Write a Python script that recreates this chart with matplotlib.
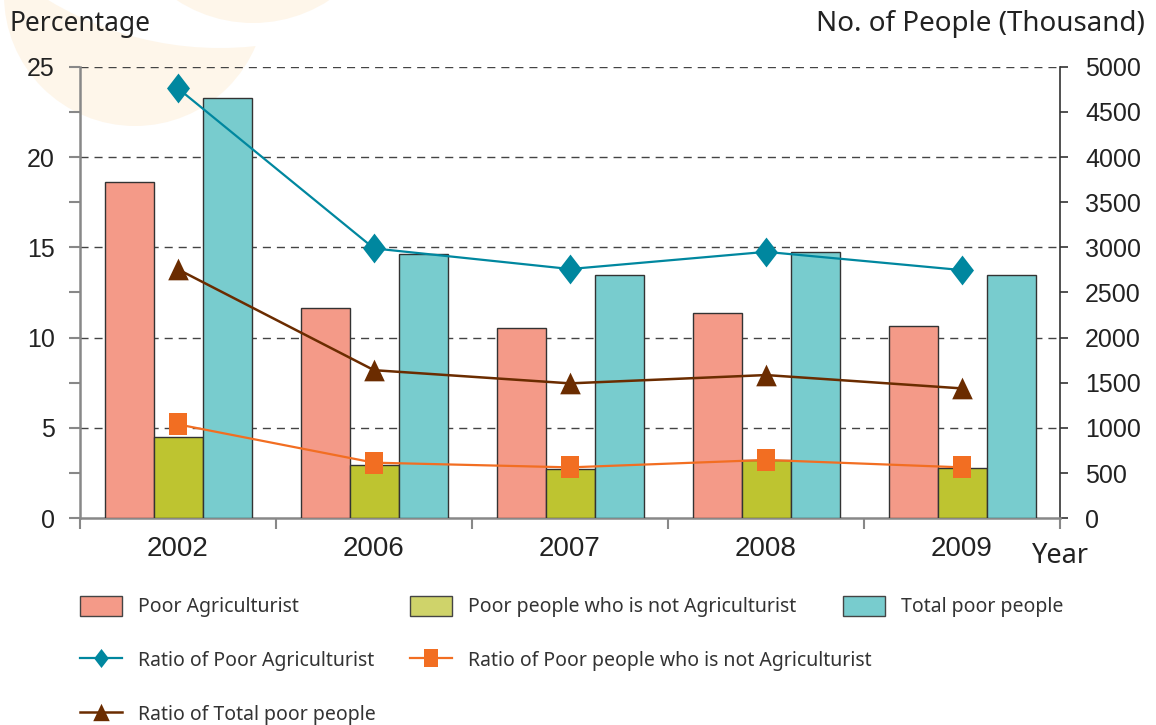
import matplotlib
matplotlib.use("Agg")
import matplotlib.pyplot as plt
import numpy as np
from matplotlib.patches import Circle, Patch
from matplotlib.lines import Line2D
from matplotlib.transforms import IdentityTransform
from matplotlib.ticker import MultipleLocator, FixedLocator, NullFormatter

# ---- data ----
years = ["2002", "2006", "2007", "2008", "2009"]

# number of people (thousand)
poor_agri = [3725, 2331, 2103, 2269, 2132]
poor_non_agri = [903, 590, 542, 645, 553]
total_poor = [4656, 2929, 2690, 2944, 2690]

# ratios (percent)
ratio_agri = [23.8, 14.94, 13.8, 14.75, 13.74]
ratio_non_agri = [5.2, 3.08, 2.82, 3.23, 2.82]
ratio_total = [13.78, 8.2, 7.47, 7.93, 7.19]

bar_labels = ["Poor Agriculturist", "Poor people who is not Agriculturist", "Total poor people"]
line_labels = ["Ratio of Poor Agriculturist", "Ratio of Poor people who is not Agriculturist",
               "Ratio of Total poor people"]

# ---- style ----
W, H, DPI = 1156, 725, 100
c_salmon, c_olive, c_olive_key, c_teal = "#F49A88", "#BEC430", "#CFD36A", "#78CCCE"
c_line_teal, c_line_orange, c_line_brown = "#00879F", "#F26E22", "#6B2C00"
beige = "#FEF6EA"
tick_font = "Liberation Sans"
text_font = "Noto Sans"

diamond = [(0, 1), (0.77, 0), (0, -1), (-0.77, 0), (0, 1)]
square = [(-0.75, -1), (0.75, -1), (0.75, 1), (-0.75, 1), (-0.75, -1)]
triangle = [(0, 1), (0.95, -1), (-0.95, -1), (0, 1)]

fig = plt.figure(figsize=(W / DPI, H / DPI), dpi=DPI)
fig.patch.set_facecolor("white")

# faint background emblem in the top-left corner
def px_circle(x, y, r, color):
    c = Circle((x, H - y), r, transform=IdentityTransform(), facecolor=color,
               edgecolor="none", zorder=-5)
    fig.add_artist(c)

px_circle(135, -5, 131, beige)
px_circle(220, -284, 332, "white")
px_circle(253, -116, 139, beige)

left, right, top, bottom = 80, 1060, 66.7, 518.3
ax = fig.add_axes([left / W, 1 - bottom / H, (right - left) / W, (bottom - top) / H])
ax.patch.set_alpha(0)
ax_pct = ax.twinx()
ax_pct.patch.set_alpha(0)

x = np.arange(len(years))
bw = 0.25
edge = "#333333"
ax.bar(x - bw, poor_agri, bw, color=c_salmon, edgecolor=edge, linewidth=1.0, zorder=3)
ax.bar(x, poor_non_agri, bw, color=c_olive, edgecolor=edge, linewidth=1.0, zorder=3)
ax.bar(x + bw, total_poor, bw, color=c_teal, edgecolor=edge, linewidth=1.0, zorder=3)

# numbers axis (right side)
ax.set_xlim(-0.5, len(years) - 0.5)
ax.set_ylim(0, 5000)
ax.yaxis.tick_right()
ax.yaxis.set_major_locator(MultipleLocator(500))
ax.tick_params(axis="y", which="major", direction="out", length=6, width=1.2,
               color="#333333", pad=12, labelsize=18, labelcolor="#222222")
for t in ax.get_yticklabels():
    t.set_fontfamily(tick_font)

# dashed gridlines every 1000 (= every 5 %)
for g in range(1000, 5001, 1000):
    ax.axhline(g, color="#444444", linewidth=1.0, linestyle=(0, (5.8, 4.3)), zorder=1)

# category axis
ax.set_xticks(x)
ax.set_xticklabels(years)
ax.xaxis.set_minor_locator(FixedLocator(np.arange(-0.5, len(years), 1.0)))
ax.tick_params(axis="x", which="major", length=0, pad=13, labelsize=20, labelcolor="#222222")
ax.tick_params(axis="x", which="minor", direction="out", length=8, width=1.5, color="#888888")
for t in ax.get_xticklabels():
    t.set_fontfamily(tick_font)

for s in ["top", "left"]:
    ax.spines[s].set_visible(False)
ax.spines["bottom"].set_color("#888888")
ax.spines["bottom"].set_linewidth(1.8)
ax.spines["right"].set_color("#333333")
ax.spines["right"].set_linewidth(1.2)

# percentage axis (left side)
ax_pct.set_ylim(0, 25)
ax_pct.yaxis.tick_left()
ax_pct.yaxis.set_major_locator(MultipleLocator(5))
ax_pct.yaxis.set_minor_locator(MultipleLocator(2.5))
ax_pct.yaxis.set_minor_formatter(NullFormatter())
ax_pct.tick_params(axis="y", which="both", direction="out", length=8, width=1.5,
                   color="#888888", pad=10, labelsize=18, labelcolor="#222222")
for t in ax_pct.get_yticklabels():
    t.set_fontfamily(tick_font)
for s in ["top", "right", "bottom"]:
    ax_pct.spines[s].set_visible(False)
ax_pct.spines["left"].set_color("#888888")
ax_pct.spines["left"].set_linewidth(1.8)

ax_pct.plot(x, ratio_agri, color=c_line_teal, linewidth=1.6, marker=diamond,
            markersize=21.5, markeredgewidth=0, zorder=5)
ax_pct.plot(x, ratio_non_agri, color=c_line_orange, linewidth=1.6, marker=square,
            markersize=16.5, markeredgewidth=0, zorder=5)
ax_pct.plot(x, ratio_total, color=c_line_brown, linewidth=1.8, marker=triangle,
            markersize=15.6, markeredgewidth=0, zorder=5)

# axis titles
fig.text(10 / W, 1 - 24 / H, "Percentage", fontsize=19, family=text_font,
         color="#222222", ha="left", va="center")
fig.text(1145 / W, 1 - 24 / H, "No. of People (Thousand)", fontsize=20, family=text_font,
         color="#222222", ha="right", va="center")
fig.text(1032 / W, 1 - 556 / H, "Year", fontsize=19.5, family=text_font,
         color="#222222", ha="left", va="center")

# legend
fs = 14
leg_kw = dict(frameon=False, handlelength=2.16, handleheight=1.18,
              handletextpad=0.8, borderpad=0, borderaxespad=0, labelspacing=1.66,
              prop={"family": text_font, "size": fs})

h_bar = [Patch(facecolor=c, edgecolor="#444444", linewidth=1.0)
         for c in (c_salmon, c_olive_key, c_teal)]
h_line = [
    Line2D([], [], color=c_line_teal, linewidth=1.6, marker=diamond, markersize=13.7, markeredgewidth=0),
    Line2D([], [], color=c_line_orange, linewidth=1.6, marker=square, markersize=13, markeredgewidth=0),
    Line2D([], [], color=c_line_brown, linewidth=1.8, marker=triangle, markersize=12.5, markeredgewidth=0),
]

row_top = 596
col_x = [80, 410, 843]
columns = [
    ([h_bar[0], h_line[0], h_line[2]], [bar_labels[0], line_labels[0], line_labels[2]]),
    ([h_bar[1], h_line[1]], [bar_labels[1], line_labels[1]]),
    ([h_bar[2]], [bar_labels[2]]),
]
for cx, (hs, ls) in zip(col_x, columns):
    lg = fig.legend(hs, ls, loc="upper left", bbox_to_anchor=(cx / W, 1 - row_top / H), **leg_kw)
    for t in lg.get_texts():
        t.set_color("#333333")

fig.savefig("out.png", dpi=DPI, facecolor="white")
